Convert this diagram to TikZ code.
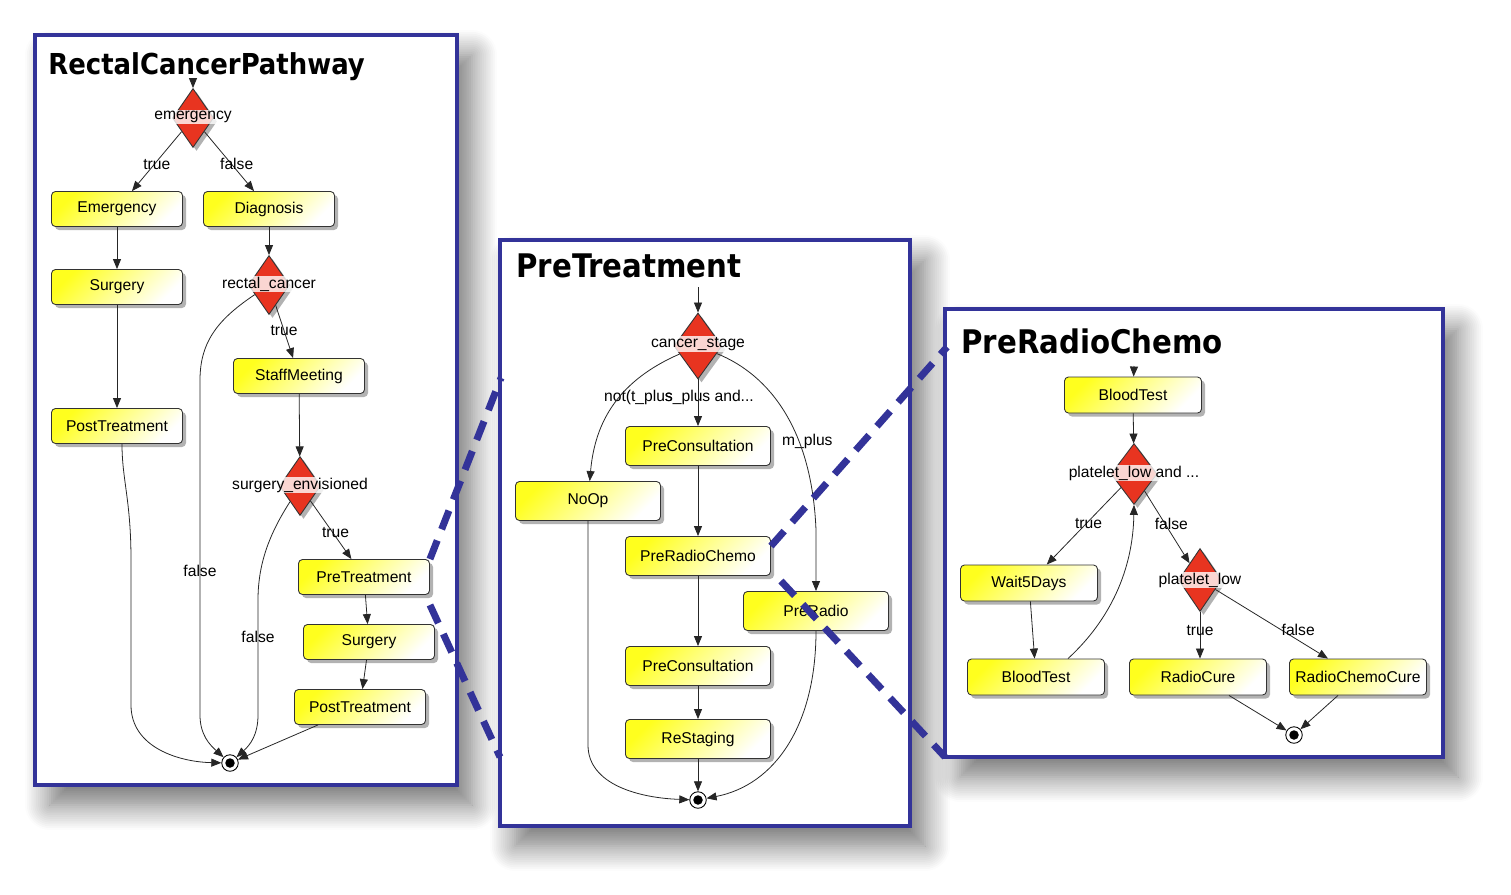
\documentclass[tikz,border=0pt]{standalone}
\usepackage{fontspec}
\setmainfont{Liberation Sans}
\newfontfamily\titlefont{DejaVu Sans Condensed Bold}
\usetikzlibrary{arrows.meta,shapes.geometric,shadows,shadows.blur}
\definecolor{pathblue}{RGB}{51,51,153}
\definecolor{condred}{RGB}{232,52,32}
\definecolor{actyellow}{RGB}{255,255,30}
\begin{document}
\begin{tikzpicture}[x=0.2mm, y=-0.2mm, >={Triangle[length=2mm,width=1.6mm]},
  every node/.style={font=\fontsize{8.9}{10}\selectfont},
  frame/.style={draw=pathblue, line width=0.8mm, fill=white, inner sep=0pt, outer sep=0pt,
    blur shadow={shadow xshift=3mm, shadow yshift=-4mm, shadow blur radius=5mm, shadow blur steps=14, shadow opacity=55}},
  paneltitle/.style={font=\titlefont\fontsize{#1}{#1}\selectfont, anchor=base west, inner sep=0pt},
  act/.style={draw=black!80, line width=0.5pt, rounded corners=0.8mm, top color=actyellow, bottom color=white, shading angle=45,
    drop shadow={shadow xshift=0.7mm, shadow yshift=-0.7mm, opacity=0.6}},
  box1/.style={act, minimum width=26.2mm, minimum height=7mm},
  box2/.style={act, minimum width=29mm, minimum height=7.8mm},
  box3/.style={act, minimum width=27.4mm, minimum height=7.2mm},
  cond/.style={diamond, draw=black!80, line width=0.5pt, fill=condred, inner sep=0pt,
    drop shadow={shadow xshift=0.7mm, shadow yshift=-0.7mm, opacity=0.6}},
  cond1/.style={cond, minimum width=8.2mm, minimum height=11.8mm},
  cond2/.style={cond, minimum width=9.6mm, minimum height=13.2mm},
  cond3/.style={cond, minimum width=9.2mm, minimum height=12.2mm},
  clbl/.style={fill=white, fill opacity=0.8, text opacity=1, inner sep=0.5pt},
  final/.style={circle, draw=black, line width=0.5pt, fill=white, minimum size=3.3mm, inner sep=0pt,
    path picture={\fill[black] (path picture bounding box.center) circle (0.95mm);}},
  flow/.style={->, draw=black!85, line width=0.45pt},
  elbl/.style={inner sep=1pt},
  zoomline/.style={draw=pathblue, line width=1.4mm, dash pattern=on 4mm off 2.4mm}]
\useasboundingbox (0,0) rectangle (1511,894);
\node[frame, minimum width=84.4mm, minimum height=150mm] (pwA) at (246,410) {};
\node[paneltitle=16.4] (tA) at (48,74) {RectalCancerPathway};
\coordinate (inA) at (193,78);
\node[cond1] (emc) at (193,118) {};
\node[clbl] (emcl) at (193,117) {emergency};
\node[box1] (emerg) at (117,209) {Emergency};
\node[box1] (diag) at (269,209) {Diagnosis};
\node[box1] (surgA) at (117,287) {Surgery};
\node[cond1] (rcc) at (269,285) {};
\node[clbl] (rccl) at (269,284) {rectal\_cancer};
\node[box1] (postA) at (117,426) {PostTreatment};
\node[box1] (staff) at (299,376) {StaffMeeting};
\node[cond1] (sec) at (300,486) {};
\node[clbl] (secl) at (300,485) {surgery\_envisioned};
\node[box1] (preA) at (364,577) {PreTreatment};
\node[box1] (surgB) at (369,642) {Surgery};
\node[box1] (postB) at (360,707) {PostTreatment};
\node[final] (endA) at (230,763) {};
\draw[flow] (inA) -- (emc);
\draw[flow] (emc) -- node[elbl, pos=0.55, xshift=0.5mm] {true} (emerg);
\draw[flow] (emc) -- node[elbl, pos=0.55, xshift=1mm] {false} (diag);
\draw[flow] (emerg) -- (surgA);
\draw[flow] (surgA) -- (postA);
\draw[flow] (diag) -- (rcc);
\draw[flow] (rcc) -- node[elbl, pos=0.48] {true} (staff);
\draw[flow] (staff) -- (sec);
\draw[flow] (sec) -- node[elbl, pos=0.55, xshift=0.5mm] {true} (preA);
\draw[flow] (preA) -- (surgB);
\draw[flow] (surgB) -- (postB);
\draw[flow] ([xshift=1mm]postA.south) .. controls (122,480) and (131,500) .. (131,560) -- (131,705) .. controls (131,748) and (180,762) .. (endA);
\draw[flow] (rcc) .. controls (220,318) and (200,340) .. (200,380) -- node[elbl, pos=0.57] {false} (200,715) .. controls (200,735) and (210,745) .. (endA);
\draw[flow] (sec) .. controls (272,530) and (258,560) .. (258,600) -- node[elbl, pos=0.32] {false} (258,715) .. controls (258,735) and (250,745) .. (endA);
\draw[flow] ([xshift=-8.4mm]postB.south) -- (endA);
\node[frame, minimum width=82mm, minimum height=117.2mm] (pwB) at (705,533) {};
\node[paneltitle=18.5] (tB) at (516,277) {PreTreatment};
\coordinate (inB) at (698,287);
\node[cond2] (csc) at (698,346) {};
\node[clbl] (cscl) at (698,344) {cancer\_stage};
\node[box2] (pcA) at (698,446) {PreConsultation};
\node[box2] (noop) at (588,501) {NoOp};
\node[box2] (prc) at (698,556) {PreRadioChemo};
\node[box2] (prad) at (816,611) {PreRadio};
\node[box2] (pcB) at (698,666) {PreConsultation};
\node[box2] (rest) at (698,739) {ReStaging};
\node[final] (endB) at (698,800) {};
\node[elbl, anchor=west] (lnot) at (602,397) {not(t\_plus};
\node[elbl, anchor=west] (lsplus) at (663,397) {s\_plus and...};
\node[elbl, anchor=west] (lmplus) at (780,441) {m\_plus};
\draw[flow] (inB) -- (csc);
\draw[flow] (csc) -- (pcA);
\draw[flow] (csc) .. controls (620,380) and (595,420) .. (noop);
\draw[flow] (csc) .. controls (770,375) and (812,430) .. (816,530) -- (prad);
\draw[flow] (pcA) -- (prc);
\draw[flow] (prc) -- (pcB);
\draw[flow] (pcB) -- (rest);
\draw[flow] (rest) -- (endB);
\draw[flow] (noop) -- (588,745) .. controls (588,785) and (640,798) .. (endB);
\draw[flow] (prad) .. controls (816,725) and (775,785) .. (endB);
\node[frame, minimum width=99.6mm, minimum height=89.6mm] (pwC) at (1194,533) {};
\node[paneltitle=18.5] (tC) at (961,353) {PreRadioChemo};
\coordinate (inC) at (1134,366);
\node[box3] (btA) at (1133,395) {BloodTest};
\node[cond3] (plc) at (1134,474) {};
\node[clbl] (plcl) at (1134,473) {platelet\_low and ...};
\node[box3] (wait) at (1029,583) {Wait5Days};
\node[cond3, minimum width=8.6mm, minimum height=12.6mm] (pld) at (1200,580) {};
\node[clbl] (pldl) at (1200,580) {platelet\_low};
\node[box3] (btB) at (1036,677) {BloodTest};
\node[box3] (rcure) at (1198,677) {RadioCure};
\node[box3] (rccure) at (1358,677) {RadioChemoCure};
\node[final] (endC) at (1294,735) {};
\draw[flow] (inC) -- (btA);
\draw[flow] (btA) -- (plc);
\draw[flow] (plc) -- node[elbl, pos=0.47, xshift=0.5mm] {true} (wait);
\draw[flow] (plc) -- node[elbl, pos=0.46, xshift=1.2mm] {false} (pld);
\draw[flow] (wait) -- (btB);
\draw[flow] ([xshift=6.4mm]btB.north) .. controls (1110,620) and (1133,570) .. (plc.south);
\draw[flow] (pld.south) -- node[elbl, pos=0.39] {true} (pld.south |- rcure.north);
\draw[flow] (pld) -- node[elbl, pos=0.58, xshift=3.5mm] {false} (rccure);
\draw[flow] ([xshift=6.2mm]rcure.south) -- (endC);
\draw[flow] ([xshift=-4mm]rccure.south) -- (endC);
\coordinate (zA1) at (501,378);
\coordinate (zA2) at (500,757);
\coordinate (zB1) at (947,347);
\coordinate (zB2) at (945,757);
\draw[zoomline] (preA.north east) -- (zA1);
\draw[zoomline] ([yshift=-2mm]preA.south east) -- (zA2);
\draw[zoomline] ([yshift=-2mm]prc.north east) -- (zB1);
\draw[zoomline] ([xshift=2mm,yshift=-1mm]prc.south east) -- (zB2);
\end{tikzpicture}
\end{document}
